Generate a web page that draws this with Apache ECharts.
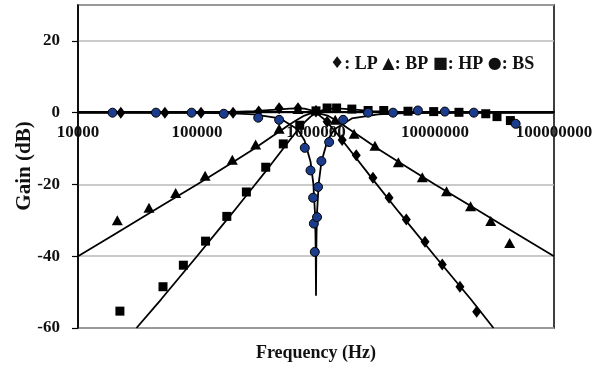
<!DOCTYPE html>
<html>
<head>
<meta charset="utf-8">
<script src="https://cdn.jsdelivr.net/npm/echarts@6/dist/echarts.min.js"></script>
<style>html,body{margin:0;padding:0;background:#fff}#c{width:602px;height:370px}</style>
</head>
<body>
<div id="c"></div>
<script>
// Tick values
const xTicks = [10000, 100000, 1000000, 10000000, 100000000];
const yTicks = [-60, -40, -20, 0, 20];

// Measured points [frequency Hz, gain dB]
const lpMeasured = [[22900,0],[53700,0],[108000,0],[201000,0],[330000,0.3],[490000,1.2],[706000,1.2],[1000000,0.3],[1240000,-2.5],[1660000,-7.6],[2180000,-11.9],[3010000,-18.1],[4110000,-23.7],[5740000,-29.8],[8240000,-36.0],[11500000,-42.3],[16200000,-48.5],[22400000,-55.5]];
const bpMeasured = [[21400,-30],[39500,-26.5],[66200,-22.4],[117000,-17.6],[198000,-13.1],[311000,-8.9],[490000,-4.5],[706000,1.0],[1000000,0.8],[1450000,-2.0],[2090000,-5.9],[3130000,-9.2],[4920000,-13.8],[7820000,-18.0],[12500000,-21.9],[19900000,-26.1],[29400000,-30.2],[42400000,-36.3]];
const hpMeasured = [[22500,-55.3],[51800,-48.5],[76800,-42.5],[118000,-35.8],[178000,-28.9],[260000,-22.1],[378000,-15.2],[531000,-8.7],[730000,-3.5],[1000000,0.5],[1240000,1.3],[1490000,1.3],[2000000,1.0],[2740000,0.6],[3710000,0.6],[5930000,0.4],[9750000,0.3],[15900000,0.1],[26700000,-0.3],[33200000,-1.1],[43000000,-2.2]];
const bsMeasured = [[19500,0],[45200,0],[90100,0],[168000,-0.3],[327000,-1.4],[490000,-2.0],[805000,-9.8],[899000,-16.1],[946000,-23.7],[960000,-30.9],[977000,-38.8],[1020000,-29.1],[1040000,-20.7],[1110000,-13.5],[1290000,-8.2],[1690000,-2.0],[2740000,0],[4440000,0],[7190000,0.6],[12100000,0.3],[21200000,0],[47600000,-3.1]];

// Fitted curves [frequency Hz, gain dB]
const lpLine = [[10000,0],[100000,0],[200000,0.2],[300000,0.4],[400000,0.7],[500000,0.9],[600000,1.1],[700000,1.2],[800000,1.1],[900000,0.7],[1000000,0],[1200000,-2.1],[1500000,-5.8],[2000000,-11.1],[3000000,-18.6],[5000000,-27.8],[10000000,-40],[20000000,-52],[31000000,-60]];
const bpLine = [[10000,-40],[20000,-34],[50000,-26],[100000,-20],[200000,-13.8],[300000,-10.1],[400000,-7.3],[500000,-5.1],[600000,-3.3],[700000,-1.9],[800000,-0.8],[900000,-0.2],[1000000,0],[1250000,-0.8],[1430000,-1.9],[1670000,-3.3],[2000000,-5.1],[2500000,-7.3],[3330000,-10.1],[5000000,-13.8],[10000000,-20],[20000000,-26],[50000000,-34],[100000000,-40]];
const hpLine = [[31000,-60],[50000,-52],[100000,-40],[200000,-27.8],[300000,-20.5],[400000,-15.3],[500000,-11.1],[600000,-7.7],[700000,-4.9],[800000,-2.7],[900000,-1.1],[1000000,0],[1200000,1.0],[1500000,1.2],[2000000,0.9],[3000000,0.45],[5000000,0.17],[10000000,0.04],[100000000,0]];
const bsLine = [[10000,0],[100000,-0.04],[200000,-0.2],[300000,-0.45],[500000,-1.6],[700000,-4.6],[800000,-7.7],[900000,-13.7],[950000,-19.8],[980000,-27.9],[990000,-33.9],[995000,-40],[1000000,-51],[1005000,-40],[1010000,-33.9],[1020000,-27.9],[1053000,-19.8],[1111000,-13.7],[1250000,-7.7],[1430000,-4.6],[2000000,-1.6],[3330000,-0.45],[5000000,-0.2],[10000000,-0.04],[100000000,0]];

const legendText = '{s|♦}: LP {s|▲}: BP {s|■}: HP {s|●}: BS';
const xTitle = 'Frequency (Hz)';
const yTitle = 'Gain (dB)';

const FONT = '"Liberation Serif", "Times New Roman", serif';

function lineSeries(data) {
  return { type: 'line', data: data, symbol: 'none', showSymbol: false, smooth: false,
    lineStyle: { color: '#000', width: 1.8 }, z: 2, silent: true };
}
function scatterSeries(data, symbol, size, color) {
  return { type: 'scatter', data: data, symbol: symbol, symbolSize: size,
    itemStyle: { color: color, opacity: 1, borderColor: '#000', borderWidth: color === '#000' ? 0 : 1 }, z: 3 };
}

const chart = echarts.init(document.getElementById('c'), null, { renderer: 'canvas' });
chart.setOption({
  animation: false,
  backgroundColor: '#fff',
  grid: { left: 78, right: 48, top: 5, bottom: 42, show: true, borderColor: '#000', borderWidth: 1.5, backgroundColor: 'transparent' },
  xAxis: {
    type: 'log', logBase: 10, min: xTicks[0], max: xTicks[xTicks.length - 1],
    offset: -216,
    axisLine: { onZero: false, lineStyle: { color: '#000', width: 1.8 } },
    axisTick: { show: false },
    splitLine: { show: false },
    axisLabel: { margin: 12, color: '#111', fontFamily: FONT, fontWeight: 'bold', fontSize: 17,
      showMinLabel: true, showMaxLabel: true,
      formatter: function (v) { return String(Math.round(v)); } }
  },
  yAxis: {
    type: 'value', min: yTicks[0], max: 30, interval: 20,
    axisLine: { show: true, onZero: false, lineStyle: { color: '#000', width: 1.5 } },
    axisTick: { show: true, length: 6, lineStyle: { color: '#000', width: 1.2 } },
    splitLine: { show: true, lineStyle: { color: '#b8b8b8', width: 1.5 } },
    axisLabel: { margin: 18, color: '#111', fontFamily: FONT, fontWeight: 'bold', fontSize: 17,
      showMaxLabel: false,
      formatter: function (v) { return yTicks.indexOf(v) >= 0 ? String(v) : ''; } }
  },
  graphic: [
    { type: 'text', left: 330, top: 55, style: { text: legendText, fontFamily: FONT, fontWeight: 'bold', fontSize: 18, fill: '#111',
      rich: { s: { fontFamily: '"DejaVu Sans"', fontSize: 16, fill: '#111' } } } },
    { type: 'text', x: 25, y: 166, rotation: Math.PI / 2, style: { text: yTitle, fontFamily: FONT, fontWeight: 'bold', fontSize: 21, fill: '#111', align: 'center', verticalAlign: 'middle' } },
    { type: 'text', x: 316, y: 353, style: { text: xTitle, fontFamily: FONT, fontWeight: 'bold', fontSize: 18, fill: '#111', align: 'center', verticalAlign: 'middle' } }
  ],
  series: [
    lineSeries(lpLine), lineSeries(bpLine), lineSeries(hpLine), lineSeries(bsLine),
    scatterSeries(lpMeasured, 'diamond', [9, 12], '#000'),
    scatterSeries(bpMeasured, 'triangle', [11, 10], '#000'),
    scatterSeries(hpMeasured, 'rect', [9, 9], '#000'),
    scatterSeries(bsMeasured, 'circle', 9, '#1b3c8c')
  ]
});
</script>
</body>
</html>
